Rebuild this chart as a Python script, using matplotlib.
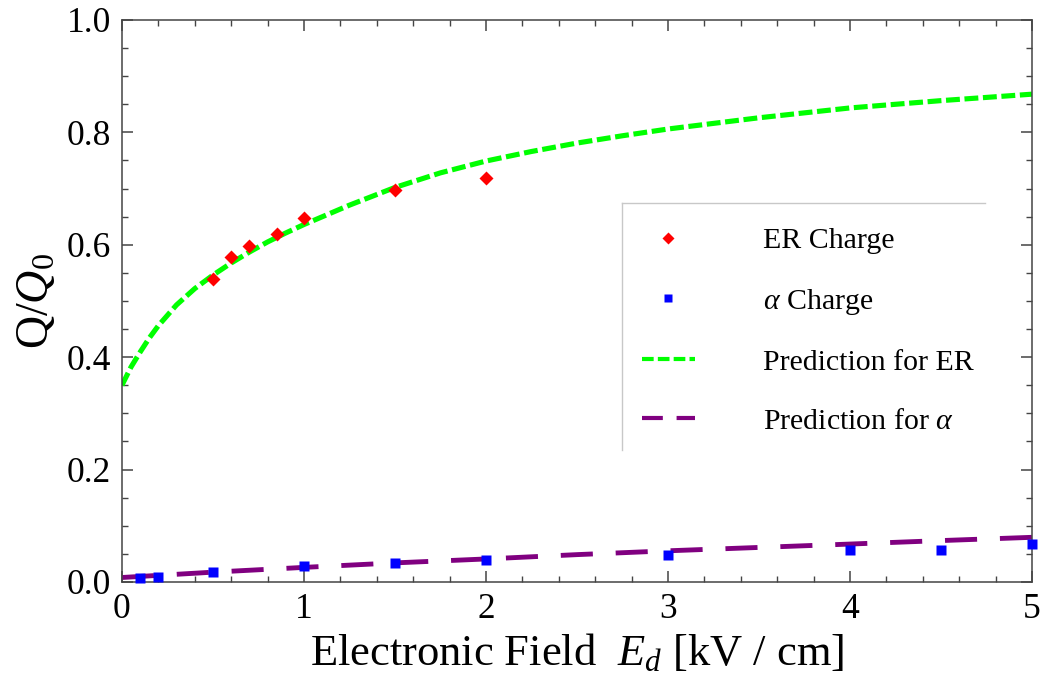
import matplotlib
matplotlib.use("Agg")
import matplotlib.pyplot as plt
from matplotlib.ticker import MultipleLocator
from matplotlib.lines import Line2D

plt.rcParams["font.family"] = ["Liberation Serif", "DejaVu Serif"]
plt.rcParams["mathtext.fontset"] = "custom"
plt.rcParams["mathtext.rm"] = "Liberation Serif"
plt.rcParams["mathtext.it"] = "Liberation Serif:italic"
plt.rcParams["mathtext.bf"] = "Liberation Serif:bold"

# Measured charge yield (drift field in kV/cm, Q/Q0)
er_field = [0.5, 0.6, 0.7, 0.85, 1.0, 1.5, 2.0]
er_charge = [0.540, 0.578, 0.598, 0.620, 0.648, 0.698, 0.718]

alpha_field = [0.1, 0.2, 0.5, 1.0, 1.5, 2.0, 3.0, 4.0, 4.5, 5.0]
alpha_charge = [0.008, 0.0095, 0.017, 0.028, 0.033, 0.0385, 0.0475, 0.0575, 0.0575, 0.0685]

# Model predictions
pred_er_field = [0.0, 0.05, 0.1, 0.15, 0.2, 0.3, 0.4, 0.5, 0.6, 0.7, 0.8, 0.9, 1.0,
                 1.25, 1.5, 1.75, 2.0, 2.25, 2.5, 2.75, 3.0, 3.5, 4.0, 4.5, 5.0]
pred_er = [0.350, 0.3825, 0.409, 0.434, 0.456, 0.493, 0.522, 0.546, 0.5675, 0.587,
           0.605, 0.621, 0.636, 0.6705, 0.702, 0.728, 0.749, 0.766, 0.781, 0.794,
           0.806, 0.826, 0.8435, 0.8565, 0.868]

pred_alpha_field = [0.0, 0.5, 1.0, 1.5, 2.0, 2.5, 3.0, 3.5, 4.0, 4.5, 5.0]
pred_alpha = [0.008, 0.0175, 0.026, 0.034, 0.041, 0.0487, 0.0555, 0.0615, 0.0675, 0.0737, 0.0795]

labels = ["ER Charge", r"$\alpha$ Charge", "Prediction for ER", r"Prediction for $\alpha$"]
xticks = [0, 1, 2, 3, 4, 5]
yticks = [0.0, 0.2, 0.4, 0.6, 0.8, 1.0]

fig = plt.figure(figsize=(10.42, 6.89), dpi=100)
ax = fig.add_axes([0.117, 0.1553, 0.8734, 0.8157])

ax.plot(pred_er_field, pred_er, color="#00ff00", lw=3.7, ls=(0, (2.7, 0.9)),
        dash_capstyle="butt", zorder=2)
ax.plot(pred_alpha_field, pred_alpha, color="#800080", lw=3.5, ls=(0, (6.6, 4.7)),
        dash_capstyle="butt", zorder=2)
ax.plot(er_field, er_charge, ls="none", marker="D", ms=7.5, color="#ff0000",
        mec="none", zorder=3, clip_on=False)
ax.plot(alpha_field, alpha_charge, ls="none", marker="s", ms=7, color="#0000ff",
        mec="none", zorder=3, clip_on=False)

ax.set_xlim(0, 5)
ax.set_ylim(0, 1.0)
ax.set_xticks(xticks)
ax.set_yticks(yticks)
ax.set_xticklabels([str(v) for v in xticks])
ax.set_yticklabels([f"{v:.1f}" for v in yticks])
ax.xaxis.set_minor_locator(MultipleLocator(0.2))
ax.yaxis.set_minor_locator(MultipleLocator(0.05))
ax.tick_params(which="both", direction="in", top=True, right=True, color="#444444")
ax.tick_params(which="major", length=8, width=1.1, labelsize=25.5, pad=8)
ax.tick_params(which="minor", length=4, width=1.0)
for s in ax.spines.values():
    s.set_color("#444444")
    s.set_linewidth(1.1)

ax.set_xlabel(r"Electronic Field  $E_d$ [kV / cm]", fontsize=32, labelpad=4)
ax.set_ylabel(r"Q/$Q_0$", fontsize=33, labelpad=6)

handles = [
    Line2D([], [], ls="none", marker="D", ms=6, color="#ff0000", mec="none"),
    Line2D([], [], ls="none", marker="s", ms=6, color="#0000ff", mec="none"),
    Line2D([], [], color="#00ff00", lw=3, ls=(0, (2.8, 1.0)), dash_capstyle="butt"),
    Line2D([], [], color="#800080", lw=3, ls=(0, (5.0, 3.3)), dash_capstyle="butt"),
]
ax.legend(handles, labels, loc="upper left", bbox_to_anchor=(0.571, 0.631),
          frameon=False, fontsize=21.5, borderpad=0, borderaxespad=0,
          handlelength=1.78, handletextpad=2.28, labelspacing=1.08)

# partial legend frame: top and left edges
frame_kw = dict(transform=ax.transAxes, color="#c8c8c8", lw=1.0, zorder=1)
ax.plot([0.549, 0.948], [0.674, 0.674], **frame_kw)
ax.plot([0.549, 0.549], [0.674, 0.235], **frame_kw)

fig.savefig("out.png", dpi=100)
